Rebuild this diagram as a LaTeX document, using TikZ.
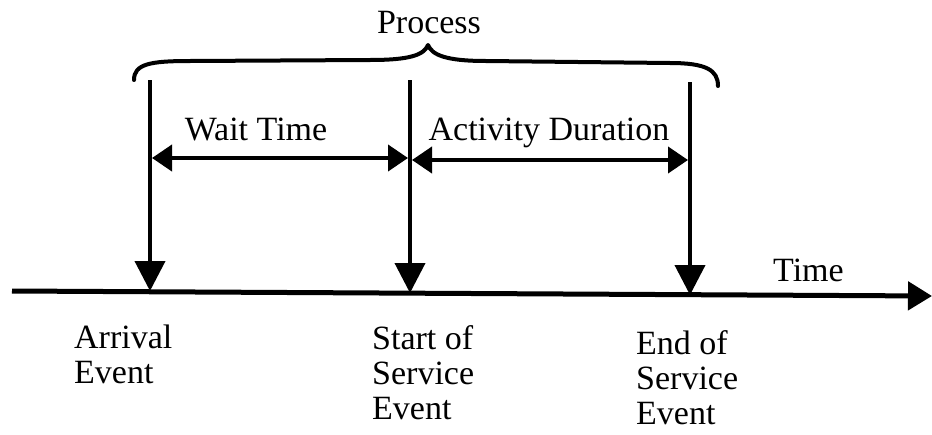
\documentclass[tikz,border=0pt]{standalone}
\usepackage{fontspec}
\setmainfont{Liberation Serif}
\usetikzlibrary{arrows.meta}
\begin{document}
\begin{tikzpicture}[x=1pt,y=-1pt,
  lbl/.style={inner sep=0pt,font=\fontsize{34}{35}\selectfont},
  evlbl/.style={lbl,align=left,anchor=north west},
  marker/.style={line width=4pt,-{Triangle[length=30pt,width=30pt]}},
  span/.style={line width=4pt,{Triangle[length=20pt,width=26pt]}-{Triangle[length=20pt,width=26pt]}},
  axis/.style={line width=5pt,-{Triangle[length=24pt,width=28pt]}},
  brace/.style={line width=4pt,line cap=round,line join=round}]
\useasboundingbox (0,0) rectangle (932,434);

% time axis
\coordinate (t0) at (12,291);
\coordinate (t1) at (932,296);
\draw[axis] (t0) -- (t1);
\node[lbl,anchor=base west] (time) at (773,281) {Time};

% event markers
\coordinate (a0) at (150,80);  \coordinate (a1) at (150,291);
\coordinate (s0) at (410,80);  \coordinate (s1) at (410,293);
\coordinate (e0) at (690,82);  \coordinate (e1) at (690,295);
\draw[marker] (a0) -- (a1);
\draw[marker] (s0) -- (s1);
\draw[marker] (e0) -- (e1);

% intervals
\coordinate (w0) at (152,158); \coordinate (w1) at (408,158);
\coordinate (d0) at (412,160); \coordinate (d1) at (688,160);
\draw[span] (w0) -- (w1);
\draw[span] (d0) -- (d1);
\node[lbl,anchor=base] (wait) at (256,140) {Wait Time};
\node[lbl,anchor=base] (act) at (549,140) {Activity Duration};

% brace over the whole process
\coordinate (b0) at (134,80);
\coordinate (bt) at (428,45);
\coordinate (b1) at (718,86);
\draw[brace] (b0) .. controls (134,64) and (150,61) .. (190,61)
  -- (370,60) .. controls (410,60) and (424,55) .. (bt)
  .. controls (432,55) and (446,61) .. (486,61)
  -- (670,63) .. controls (706,63) and (718,70) .. (b1);
\node[lbl,anchor=base] (proc) at (429,33) {Process};

% event labels
\node[evlbl] (arr) at (74,325) {Arrival\\Event};
\node[evlbl] (sos) at (372,325) {Start of\\Service\\Event};
\node[evlbl] (eos) at (636,330) {End of\\Service\\Event};
\end{tikzpicture}
\end{document}
